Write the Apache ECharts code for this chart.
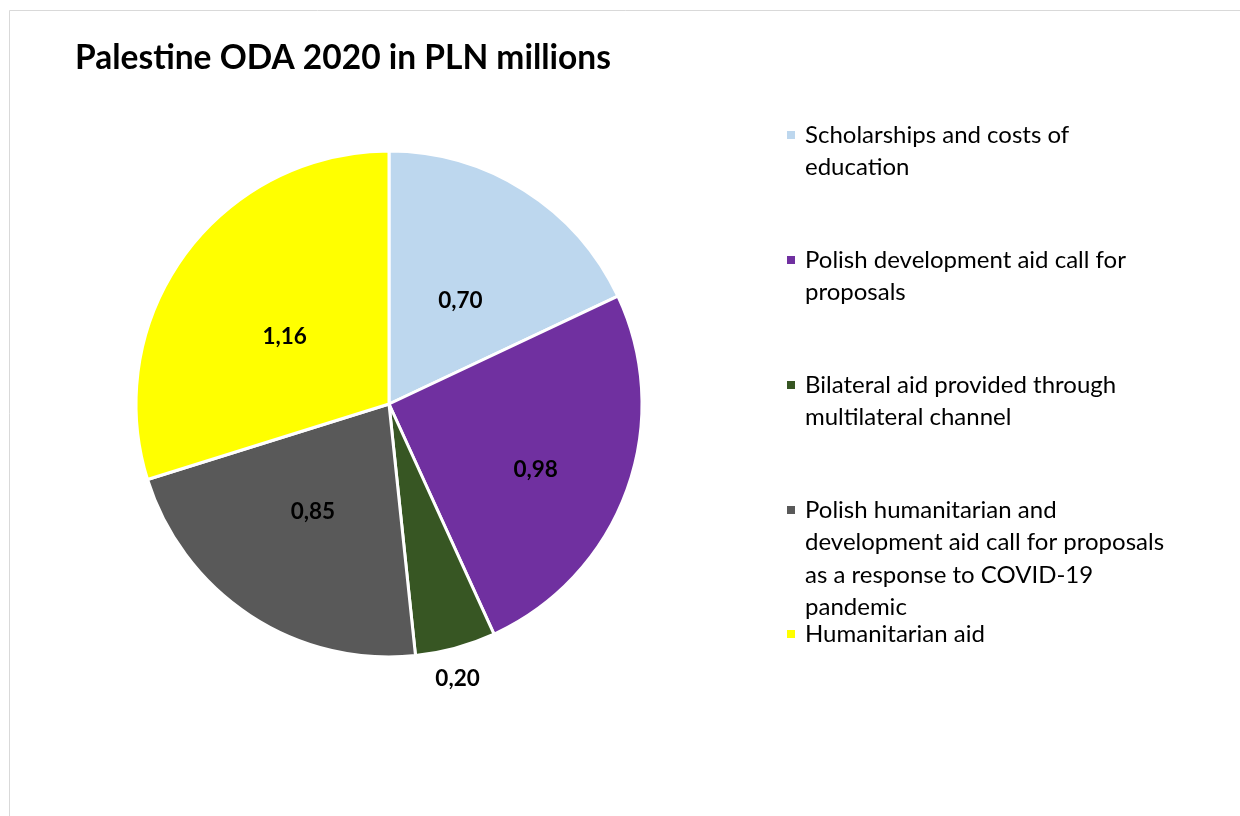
<!DOCTYPE html>
<html><head><meta charset="utf-8">
<script src="https://cdn.jsdelivr.net/npm/echarts@6/dist/echarts.min.js"></script>
<style>html,body{margin:0;padding:0;background:#fff}#c{width:1240px;height:816px}</style>
</head><body><div id="c"></div>
<script>
const titleText = 'Palestine ODA 2020 in PLN millions';
const categories = [
  'Scholarships and costs of education',
  'Polish development aid call for proposals',
  'Bilateral aid provided through multilateral channel',
  'Polish humanitarian and development aid call for proposals as a response to COVID-19 pandemic',
  'Humanitarian aid'
];
const legendLines = [
  ['Scholarships and costs of', 'education'],
  ['Polish development aid call for', 'proposals'],
  ['Bilateral aid provided through', 'multilateral channel'],
  ['Polish humanitarian and', 'development aid call for proposals', 'as a response to COVID-19', 'pandemic'],
  ['Humanitarian aid']
];
const values = [0.70, 0.98, 0.20, 0.85, 1.16];
const colors = ['#BDD7EE', '#7030A0', '#375623', '#595959', '#FFFF00'];
const outsideLabels = [false, false, true, false, false];

/* label nudges (style only, pixels) to mimic the reference's label placement */
const labelNudgeX = [2, 25, -6, -5, 0];
const labelNudgeY = [6, 21, 2, 0, 9];

const FONT = 'Lato';
const LH = 32.5;
const iconCentres = [135, 260, 385, 510, 634];

const legends = categories.map((name, i) => {
  const n = legendLines[i].length;
  return {
    left: 785,
    top: iconCentres[i] - (2 * n - 1) * LH / 2,
    padding: 0,
    orient: 'vertical',
    selectedMode: false,
    icon: 'rect',
    itemWidth: 10,
    itemHeight: 10,
    data: [name],
    formatter: nm => {
      const lines = legendLines[categories.indexOf(nm)];
      return new Array(lines.length - 1).fill(' ').concat(lines).join('\n');
    },
    textStyle: { fontFamily: FONT, fontSize: 24, color: '#000', lineHeight: LH, padding: [0, 0, 0, 4] }
  };
});

const chart = echarts.init(document.getElementById('c'), null, { renderer: 'canvas' });
chart.setOption({
  backgroundColor: '#fff',
  animation: false,
  title: {
    text: titleText,
    left: 75, top: 41, padding: 0,
    textStyle: { fontFamily: FONT, fontSize: 33.5, fontWeight: 'bold', color: '#000' }
  },
  graphic: [{
    type: 'rect', silent: true, z: -1,
    shape: { x: 9.5, y: 10.5, width: 1400, height: 1000 },
    style: { fill: 'none', stroke: '#D9D9D9', lineWidth: 1 }
  }],
  legend: legends,
  series: [{
    type: 'pie',
    center: [389, 404],
    radius: [0, 253],
    startAngle: 90,
    clockwise: true,
    avoidLabelOverlap: false,
    itemStyle: { borderColor: '#fff', borderWidth: 3 },
    label: {
      show: true,
      position: 'inside',
      formatter: p => p.value.toFixed(2).replace('.', ','),
      fontFamily: FONT, fontSize: 22.5, fontWeight: 'bold', color: '#000'
    },
    labelLine: { show: false },
    labelLayout: function (p) {
      const r = { dx: labelNudgeX[p.dataIndex], dy: labelNudgeY[p.dataIndex] };
      if (outsideLabels[p.dataIndex]) { r.align = 'center'; r.verticalAlign = 'middle'; }
      return r;
    },
    data: categories.map((name, i) => {
      const d = { name: name, value: values[i], itemStyle: { color: colors[i] } };
      if (outsideLabels[i]) {
        d.label = { position: 'outside', distanceToLabelLine: 0 };
        d.labelLine = { show: false, length: 30, length2: 0 };
      }
      return d;
    })
  }]
});
</script></body></html>
